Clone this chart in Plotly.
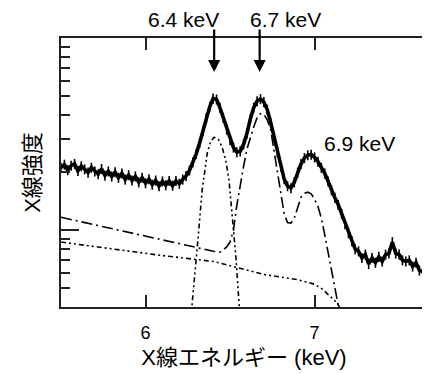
import plotly.graph_objects as go

# ---- observed spectrum (keV, arbitrary intensity) ----
energy = [5.50, 5.52, 5.54, 5.56, 5.58, 5.60, 5.62, 5.64, 5.66, 5.68, 5.70, 5.72, 5.74, 5.76, 5.78,
          5.80, 5.82, 5.84, 5.86, 5.88, 5.90, 5.92, 5.94, 5.96, 5.98, 6.00, 6.02, 6.04, 6.06, 6.08,
          6.10, 6.12, 6.14, 6.16, 6.18, 6.20, 6.22, 6.24, 6.26, 6.28, 6.30, 6.32, 6.34, 6.36, 6.38,
          6.40, 6.42, 6.44, 6.46, 6.48, 6.50, 6.52, 6.54, 6.56, 6.58, 6.60, 6.62, 6.64, 6.66, 6.68,
          6.70, 6.72, 6.74, 6.76, 6.78, 6.80, 6.82, 6.84, 6.86, 6.88, 6.90, 6.92, 6.94, 6.96, 6.98,
          7.00, 7.02, 7.04, 7.06, 7.08, 7.10, 7.12, 7.14, 7.16, 7.18, 7.20, 7.22, 7.24, 7.26, 7.28,
          7.30, 7.32, 7.34, 7.36, 7.38, 7.40, 7.42, 7.44, 7.46, 7.48, 7.50, 7.52, 7.54, 7.56, 7.58,
          7.60, 7.62, 7.64, 7.66]
counts = [2.12, 2.20, 2.06, 2.17, 2.22, 2.04, 2.16, 2.08, 2.00, 2.12, 2.03, 1.96, 2.09, 1.93, 2.03,
          1.91, 2.01, 1.88, 1.98, 1.84, 1.94, 1.82, 1.91, 1.78, 1.88, 1.76, 1.85, 1.73, 1.82, 1.70,
          1.80, 1.72, 1.81, 1.71, 1.81, 1.75, 1.84, 1.92, 2.05, 2.26, 2.50, 2.85, 3.30, 3.85, 4.40,
          4.85, 4.80, 4.35, 3.85, 3.35, 2.95, 2.70, 2.55, 2.58, 2.80, 3.20, 3.80, 4.35, 4.70, 4.82,
          4.65, 4.25, 3.65, 3.05, 2.55, 2.15, 1.85, 1.70, 1.66, 1.78, 2.00, 2.22, 2.38, 2.46, 2.48,
          2.40, 2.28, 2.12, 1.98, 1.80, 1.62, 1.48, 1.36, 1.22, 1.08, 0.97, 0.88, 0.80, 0.78, 0.72,
          0.75, 0.67, 0.72, 0.68, 0.73, 0.69, 0.75, 0.76, 0.87, 0.76, 0.75, 0.70, 0.69, 0.70, 0.65,
          0.68, 0.62, 0.61, 0.56]

# ---- model: continuum 1 + 6.7 keV + 6.9 keV lines ----
model_a_e = [5.50, 5.80, 6.10, 6.20, 6.30, 6.40, 6.44, 6.48, 6.50, 6.52, 6.54, 6.56, 6.58, 6.60,
             6.62, 6.64, 6.66, 6.68, 6.70, 6.72, 6.74, 6.76, 6.78, 6.80, 6.82, 6.84, 6.86, 6.88,
             6.90, 6.92, 6.94, 6.96, 6.98, 7.00, 7.02, 7.04, 7.06, 7.08, 7.10, 7.12, 7.14, 7.16]
model_a = [1.17, 1.02, 0.893, 0.855, 0.815, 0.78, 0.77, 0.82, 0.87, 1.00, 1.35, 1.75, 2.15, 2.65,
           3.05, 3.45, 3.85, 4.05, 4.02, 3.75, 3.35, 2.60, 1.95, 1.50, 1.22, 1.10, 1.09, 1.16,
           1.33, 1.49, 1.56, 1.58, 1.55, 1.45, 1.33, 1.16, 0.95, 0.78, 0.63, 0.52, 0.42, 0.33]

# ---- model: continuum 2 ----
model_b_e = [5.50, 5.80, 6.10, 6.40, 6.70, 6.90, 7.00, 7.04, 7.08, 7.11, 7.14, 7.17]
model_b = [0.87, 0.80, 0.74, 0.69, 0.59, 0.555, 0.525, 0.50, 0.465, 0.44, 0.41, 0.37]

# ---- model: 6.4 keV line ----
model_c_e = [6.27, 6.276, 6.306, 6.335, 6.365, 6.385, 6.406, 6.43, 6.453, 6.475, 6.494, 6.512,
             6.535, 6.553, 6.56]
model_c = [0.35, 0.42, 0.815, 1.62, 2.52, 2.90, 3.05, 2.98, 2.71, 2.30, 1.82, 1.23, 0.72, 0.42, 0.35]

line_labels = ["6.4 keV", "6.7 keV", "6.9 keV"]
arrow_e = [6.406, 6.675]

FONT = "Liberation Sans, Arial, Noto Sans CJK JP, sans-serif"

fig = go.Figure()
fig.add_trace(go.Scatter(x=model_a_e, y=model_a, mode="lines",
                         line=dict(color="black", width=1.6, dash="11px,4px,2px,4px")))
fig.add_trace(go.Scatter(x=model_b_e, y=model_b, mode="lines",
                         line=dict(color="black", width=1.6, dash="5px,3px,2px,3px,2px,3px")))
fig.add_trace(go.Scatter(x=model_c_e, y=model_c, mode="lines",
                         line=dict(color="black", width=1.6, dash="5px,3px,2px,3px,2px,3px")))
fig.add_trace(go.Scatter(x=energy, y=counts, mode="lines",
                         line=dict(color="black", width=3.6),
                         error_y=dict(type="percent", value=6, color="black", thickness=1.6, width=0)))

minor_vals = [0.5, 0.6, 0.7, 0.8, 0.9, 2, 3, 4, 5, 6, 7, 8, 9]

# the page body adds an 8 px offset, so the figure is sized to end at the window edge
fig.update_layout(
    width=422, height=366,
    margin=dict(l=53, r=1, t=30, b=67),
    paper_bgcolor="white", plot_bgcolor="white",
    showlegend=False,
    font=dict(family=FONT, color="black", size=18),
    xaxis=dict(range=[5.5, 7.665], tickvals=[6, 7], ticktext=["6", "7"],
               ticks="inside", ticklen=12, tickwidth=2, tickcolor="#222",
               showline=True, linecolor="#222", linewidth=2, mirror="ticks",
               showgrid=False, zeroline=False, automargin=False,
               tickfont=dict(size=18), ticklabelstandoff=8,
               title=dict(text="X線エネルギー (keV)", font=dict(size=22), standoff=8)),
    yaxis=dict(type="log", range=[-0.398, 1.0], tickvals=[1],
               ticks="inside", ticklen=18, tickwidth=2, tickcolor="#222",
               showticklabels=False,
               minor=dict(tickvals=minor_vals, ticks="inside", ticklen=9, tickwidth=2, tickcolor="#222"),
               showline=True, linecolor="#222", linewidth=2, mirror=True,
               showgrid=False, zeroline=False, automargin=True,
               title=dict(text="X線強度", font=dict(size=22), standoff=12)),
)

# labels above the arrows
fig.add_annotation(x=6.224, xref="x", y=1.0706, yref="paper", text=line_labels[0],
                   xanchor="center", yanchor="middle", showarrow=False, font=dict(size=21))
fig.add_annotation(x=6.829, xref="x", y=1.0706, yref="paper", text=line_labels[1],
                   xanchor="center", yanchor="middle", showarrow=False, font=dict(size=21))
fig.add_annotation(x=7.265, y=0.453, text=line_labels[2], xanchor="center", yanchor="middle",
                   showarrow=False, font=dict(size=21))
for e in arrow_e:
    fig.add_annotation(x=e, y=0.823, text="", showarrow=True, ax=0, ay=-44,
                       arrowhead=2, arrowsize=1.1, arrowwidth=2.2, arrowcolor="black")

fig.write_html("out.html")
